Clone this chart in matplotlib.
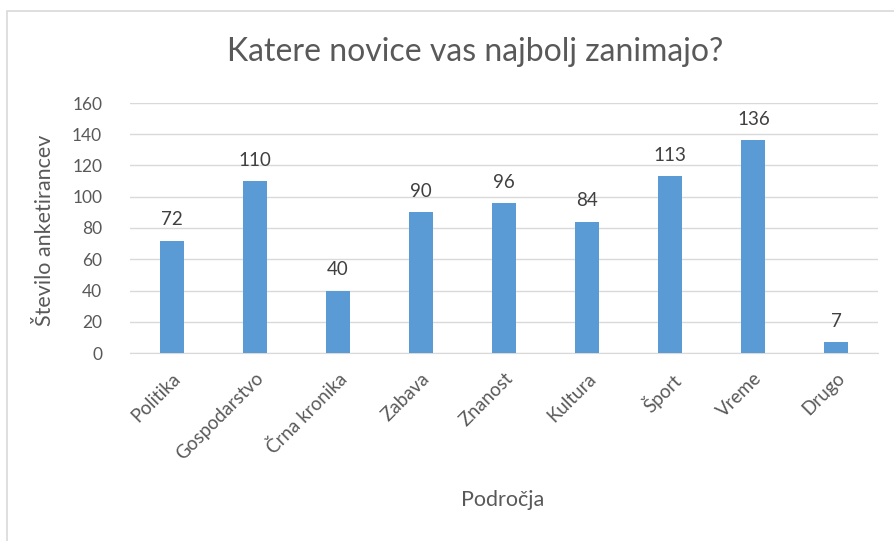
import matplotlib
matplotlib.use("Agg")
import matplotlib.pyplot as plt
from matplotlib.patches import Rectangle

categories = ["Politika", "Gospodarstvo", "Črna kronika", "Zabava", "Znanost",
              "Kultura", "Šport", "Vreme", "Drugo"]
values = [72, 110, 40, 90, 96, 84, 113, 136, 7]
yticks = [0, 20, 40, 60, 80, 100, 120, 140, 160]

plt.rcParams['font.family'] = ['Lato', 'DejaVu Sans']
W, H = 894, 541
fig = plt.figure(figsize=(W/100, H/100), dpi=100)
fig.patch.set_facecolor("white")

# outer chart frame
fig.add_artist(Rectangle((7/W, -0.05), 1.0, 1 - 11/H + 0.05, transform=fig.transFigure,
                         fill=False, edgecolor="#d9d9d9", linewidth=1.2))

ax = fig.add_axes([130/W, 1 - 353/H, (878-130)/W, (353-103)/H])
x = list(range(len(categories)))
ax.bar(x, values, width=0.29, color="#5b9bd5", zorder=3)
ax.set_xlim(-0.5, len(categories) - 0.5)
ax.set_ylim(0, 160)
ax.set_yticks(yticks)
ax.set_yticklabels([str(v) for v in yticks], fontsize=12.5, color="#595959")
ax.yaxis.grid(True, color="#d9d9d9", linewidth=1, zorder=0)
ax.tick_params(axis="both", length=0)
ax.tick_params(axis="y", pad=20)
for s in ["top", "right", "left"]:
    ax.spines[s].set_visible(False)
ax.spines["bottom"].set_color("#d9d9d9")
ax.set_xticks(x)
ax.set_xticklabels(categories, rotation=45, ha="right", rotation_mode="anchor",
                   fontsize=13.5, color="#595959")
ax.tick_params(axis="x", pad=12)

for xi, v in zip(x, values):
    ax.annotate(str(v), (xi, v), xytext=(0, 9), textcoords="offset points",
                ha="center", va="bottom", fontsize=13.5, color="#404040")

fig.text(475/W, 1 - 52/H, "Katere novice vas najbolj zanimajo?", ha="center", va="center",
         fontsize=23, color="#595959")
fig.text(45/W, 1 - 230/H, "Število anketirancev", rotation=90, ha="center", va="center",
         fontsize=15.5, color="#595959")
fig.text(503/W, 1 - 500/H, "Področja", ha="center", va="center",
         fontsize=15.5, color="#595959")

fig.savefig("out.png", dpi=100)
